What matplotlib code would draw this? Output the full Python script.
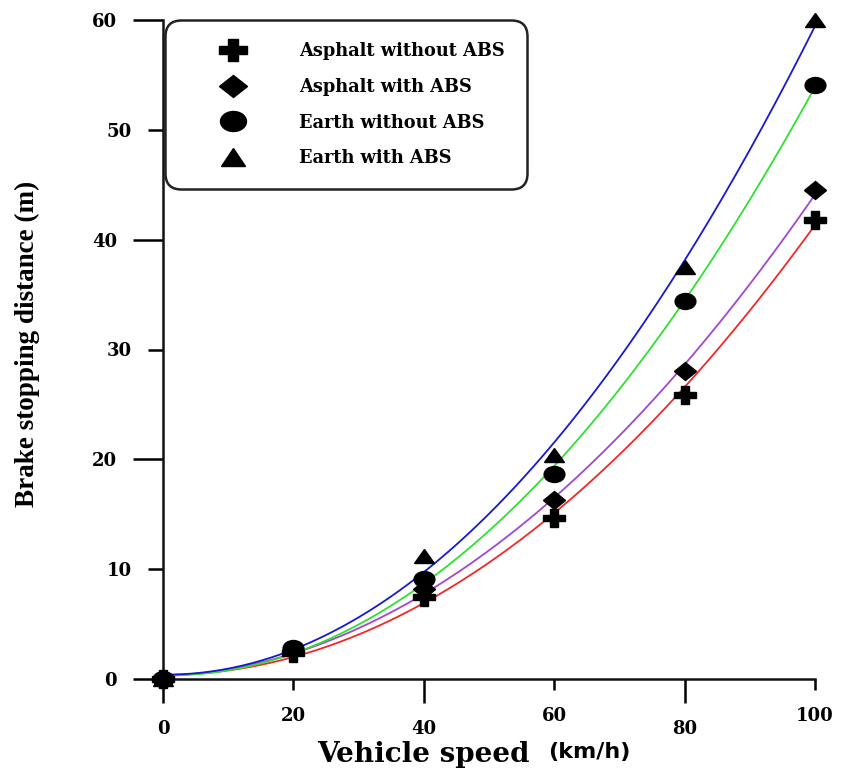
import numpy as np
import matplotlib
matplotlib.use('Agg')
import matplotlib.pyplot as plt
from matplotlib.lines import Line2D
from matplotlib.markers import MarkerStyle
from matplotlib.transforms import Affine2D

# Données
speed = [0, 20, 40, 60, 80, 100]  # vitesse du véhicule [km/h]
asphalt_no_abs = [0.0, 2.4, 7.5, 14.7, 25.9, 41.8]
asphalt_abs = [0.0, 2.6, 8.2, 16.3, 28.0, 44.5]
earth_no_abs = [0.0, 2.8, 9.1, 18.7, 34.4, 54.1]
earth_abs = [0.0, 2.8, 11.2, 20.4, 37.5, 60.0]

labels = ['Asphalt without ABS', 'Asphalt with ABS', 'Earth without ABS', 'Earth with ABS']
markers = ['P', 'D', 'o', '^']
line_colors = ['#f02828', '#a048d0', '#30e030', '#1818d0']

x_major = [0, 40, 80]
x_minor = [20, 60, 100]
y_major = [0, 20, 40, 60]
y_minor = [10, 30, 50]


# Marqueurs légèrement étirés horizontalement, comme sur l'original
def wide(m, sx=1.3):
    return MarkerStyle(m, transform=Affine2D().scale(sx, 1.0))


msize = [12.5, 9, 11.5, 10]
mstretch = [1.25, 1.3, 1.3, 1.4]

fig = plt.figure(figsize=(8.41, 7.72), dpi=100)
ax = fig.add_axes([163/841, 1 - 679/772, 652/841, 659/772])

series = [asphalt_no_abs, asphalt_abs, earth_no_abs, earth_abs]
xs = np.linspace(0, 100, 200)
for y, c in zip(series, line_colors):
    p = np.polyfit(speed, y, 2)
    ax.plot(xs, np.polyval(p, xs), color=c, lw=1.3, zorder=2)

for y, m, ms, sx in zip(series, markers, msize, mstretch):
    ax.plot(speed, y, linestyle='none', marker=wide(m, sx), ms=ms, color='black',
            clip_on=False, zorder=3)

ax.set_xlim(0, 100)
ax.set_ylim(0, 60)
for s in ['top', 'right']:
    ax.spines[s].set_visible(False)
for s in ['left', 'bottom']:
    ax.spines[s].set_linewidth(1.8)
    ax.spines[s].set_color('#111111')

tick_font = dict(family='DejaVu Serif', weight='bold', size=13)
ax.set_xticks(x_major)
ax.set_xticklabels([str(v) for v in x_major], **tick_font)
ax.set_xticks(x_minor, minor=True)
ax.set_xticklabels([str(v) for v in x_minor], minor=True, **tick_font)
ax.set_yticks(y_major)
ax.set_yticklabels([str(v) for v in y_major], **tick_font)
ax.set_yticks(y_minor, minor=True)
ax.set_yticklabels([str(v) for v in y_minor], minor=True, **tick_font)

ax.tick_params(axis='x', which='major', length=17, width=1.8, pad=12.5)
ax.tick_params(axis='x', which='minor', length=8, width=1.8, pad=12.5)
ax.tick_params(axis='y', which='major', length=21.6, width=1.8, pad=11.5)
ax.tick_params(axis='y', which='minor', length=10.8, width=1.8, pad=11.5)

# Titres des axes
fig.text(530/841, 1 - 754/772, 'Vehicle speed', ha='right', va='center',
         family='DejaVu Serif', weight='bold', size=20)
fig.text(548/841, 1 - 752/772, '(km/h)', ha='left', va='center',
         family='DejaVu Sans', weight='bold', size=16)
fig.text(27/841, 1 - 344/772, 'Brake stopping distance (m)', rotation=90,
         ha='center', va='center', family='Liberation Serif', weight='bold', size=19.5)

# Légende
handles = [Line2D([], [], linestyle='none', marker=wide(m, sx), ms=ms, color='black')
           for m, ms, sx in zip(markers, msize, mstretch)]
leg = ax.legend(handles, labels, loc='upper left',
                bbox_to_anchor=(165/841, 1 - 20/772), bbox_transform=fig.transFigure,
                prop=dict(family='DejaVu Serif', weight='bold', size=12.8),
                frameon=True, fancybox=True, edgecolor='#222222', framealpha=1,
                borderpad=1.24, handlelength=5.2, handletextpad=1.12, labelspacing=1.0,
                borderaxespad=0, markerscale=1.25)
leg.get_frame().set_linewidth(1.8)
leg.get_frame().set_boxstyle('round', pad=0, rounding_size=0.9)

plt.savefig('out.png', dpi=100)
